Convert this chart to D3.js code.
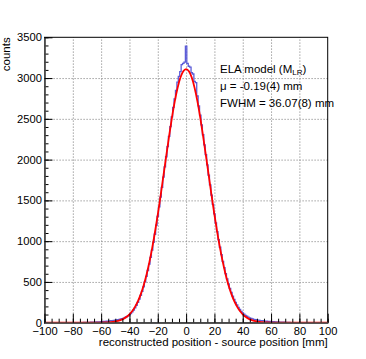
<!DOCTYPE html>
<meta charset="utf-8">
<html>
<head>
<style>
  body { margin: 0; background: #fff; }
  text { font-family: "Liberation Sans", Arial, sans-serif; }
  .grid line { stroke: #8a8a8a; stroke-dasharray: 1.2,1.8; stroke-width: 1; }
  .grid path { display: none; }
  .ax path { stroke: #555; stroke-width: 1.4; }
  .ax line { stroke: #000; }
  .ax text { font-size: 11.2px; fill: #000; }
</style>
<script src="https://d3js.org/d3.v7.min.js"></script>
</head>
<body>
<svg width="366" height="359"></svg>
<script>
// histogram, 1 mm bins centred on integers from -75 to 75
var binCentres = d3.range(-75, 76);
var histCounts = [
  1, 2, 2, 3, 3, 4, 4, 5, 6, 6, 7, 8, 9, 10, 11,            // -75 .. -61
  12, 13, 15, 16, 18, 20, 22, 24, 26, 29,                    // -60 .. -51
  32, 35, 38, 42, 46, 51, 57, 64, 73, 84,                    // -50 .. -41
  97, 113, 133, 156, 183, 214, 250, 290, 336, 385,           // -40 .. -31
  440, 500, 568, 640, 718, 800, 890, 985, 1085, 1195,        // -30 .. -21
  1305, 1420, 1540, 1660, 1785, 1910, 2035, 2160, 2285, 2405,// -20 .. -11
  2525, 2640, 2745, 2850, 2950, 3020, 3080, 3165, 3180, 3195,// -10 .. -1
  3390,                                                      // 0
  3180, 3145, 3135, 3065, 3050, 2960, 2945, 2780, 2660, 2545,// 1 .. 10
  2425, 2305, 2180, 2060, 1935, 1810, 1690, 1565, 1450, 1335,// 11 .. 20
  1225, 1118, 1018, 925, 835, 752, 675, 603, 537, 476,       // 21 .. 30
  421, 372, 327, 287, 250, 217, 188, 162, 140, 121,          // 31 .. 40
  105, 91, 79, 69, 60, 53, 47, 42, 38, 34,                   // 41 .. 50
  31, 28, 26, 24, 22, 20, 18, 17, 15, 14,                    // 51 .. 60
  13, 12, 11, 10, 9, 8, 7, 6, 6, 5, 4, 3, 3, 2, 2            // 61 .. 75
];

// gaussian fit, read every 2 mm
var fitX = d3.range(-100, 101, 2);
var fitRight = [3110, 3084, 3006, 2880, 2714, 2514, 2289, 2048, 1803, 1559,
  1326, 1109, 912, 737, 586, 457, 351, 265, 197, 143,
  103, 72, 50, 34, 23, 15, 10, 6, 4, 2.4, 1.5, 0.9, 0.5];
var fitY = fitX.map(function(x) {
  var i = Math.abs(x) / 2;
  return i < fitRight.length ? fitRight[i] : 0;
});

var xTicks = [-100, -80, -60, -40, -20, 0, 20, 40, 60, 80, 100];
var yTicks = [0, 500, 1000, 1500, 2000, 2500, 3000, 3500];
var legendLines = ["ELA model (M", "\u03bc = -0.19(4) mm", "FWHM = 36.07(8) mm"];

var svg = d3.select("svg");
var x = d3.scaleLinear().domain([-100, 100]).range([44.5, 327.7]);
var y = d3.scaleLinear().domain([0, 3500]).range([322.7, 37.3]);
var L = 44.5, R = 327.7, T = 37.3, B = 322.7;

// grid
svg.append("g").attr("class", "grid")
  .attr("transform", "translate(0," + B + ")")
  .call(d3.axisBottom(x).tickValues(xTicks.slice(1, -1)).tickSize(-(B - T)).tickFormat(""));
svg.append("g").attr("class", "grid")
  .attr("transform", "translate(" + L + ",0)")
  .call(d3.axisLeft(y).tickValues(yTicks.slice(1, -1)).tickSize(-(R - L)).tickFormat(""));

// frame
svg.append("rect").attr("x", L).attr("y", T).attr("width", R - L).attr("height", B - T)
  .attr("fill", "none").attr("stroke", "#000").attr("stroke-width", 1);

// histogram steps
var stepPts = [[-100, 0], [-75.5, 0]];
binCentres.forEach(function(c, i) {
  stepPts.push([c - 0.5, histCounts[i]]);
  stepPts.push([c + 0.5, histCounts[i]]);
});
stepPts.push([75.5, 0], [100, 0]);
svg.append("path")
  .datum(stepPts)
  .attr("fill", "none")
  .attr("stroke", "#5c5cd8")
  .attr("stroke-width", 1.3)
  .attr("d", d3.line().x(function(d) { return x(d[0]); }).y(function(d) { return y(d[1]); }));

// fit
svg.append("path")
  .datum(fitX.map(function(v, i) { return [v, fitY[i]]; }))
  .attr("fill", "none")
  .attr("stroke", "#ff0000")
  .attr("stroke-width", 1.8)
  .attr("d", d3.line().curve(d3.curveMonotoneX)
    .x(function(d) { return x(d[0]); }).y(function(d) { return y(d[1]); }));

// axes with inward ticks
var fmt = function(d) { return d < 0 ? "\u2212" + Math.abs(d) : d; };
svg.append("g").attr("class", "ax")
  .attr("transform", "translate(" + L + ",0)")
  .call(d3.axisLeft(y).tickValues(d3.range(0, 3501, 100)).tickSize(-4).tickSizeOuter(0).tickFormat(""));
svg.append("g").attr("class", "ax")
  .attr("transform", "translate(" + L + ",0)")
  .call(d3.axisLeft(y).tickValues(yTicks).tickSize(-8).tickSizeOuter(0).tickPadding(2.5).tickFormat(fmt));
svg.append("g").attr("class", "ax")
  .attr("transform", "translate(0," + B + ")")
  .call(d3.axisBottom(x).tickValues(d3.range(-100, 101, 5)).tickSize(-4).tickSizeOuter(0).tickFormat(""));
svg.append("g").attr("class", "ax")
  .attr("transform", "translate(0," + B + ")")
  .call(d3.axisBottom(x).tickValues(xTicks).tickSize(-9).tickSizeOuter(0).tickPadding(4).tickFormat(fmt));

// axis titles
svg.append("text").attr("transform", "translate(9.5," + T + ") rotate(-90)")
  .attr("text-anchor", "end").attr("font-size", "11.5px").text("counts");
svg.append("text").attr("x", R).attr("y", 346)
  .attr("text-anchor", "end").attr("font-size", "11.5px")
  .text("reconstructed position - source position [mm]");

// legend
var leg = svg.append("g").attr("font-size", "11.5px");
var t1 = leg.append("text").attr("x", 220).attr("y", 72.5);
t1.append("tspan").text(legendLines[0]);
t1.append("tspan").attr("font-size", "8px").attr("dy", 2.5).text("LR");
t1.append("tspan").attr("dy", -2.5).text(")");
leg.append("text").attr("x", 220).attr("y", 89.5).text(legendLines[1]);
leg.append("text").attr("x", 220).attr("y", 106.5).text(legendLines[2]);
</script>
</body>
</html>
